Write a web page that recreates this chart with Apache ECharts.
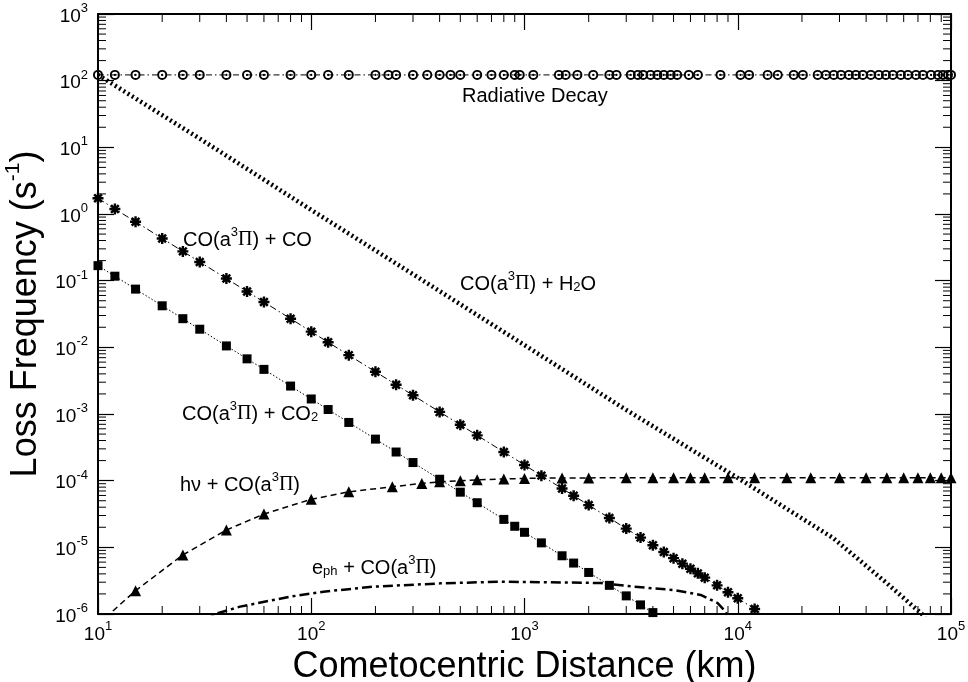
<!DOCTYPE html>
<html>
<head>
<meta charset="utf-8">
<script src="https://cdn.jsdelivr.net/npm/echarts@6/dist/echarts.min.js"></script>
<style>
  html, body { margin: 0; padding: 0; background: #ffffff; }
  #chart { width: 968px; height: 682px; }
</style>
</head>
<body>
<div id="chart"></div>
<script>
// Distances in km, loss frequencies in s^-1.

const radiativeDist = [10, 12, 15, 20, 25, 30, 40, 50, 60, 80, 100, 120, 150, 200, 230, 250, 300, 350, 400, 450, 500, 600, 700,
  800, 900, 950, 1100, 1450, 1560, 1770, 2100, 2500, 2700, 3150, 3400, 3600, 3900, 4200, 4500, 4850, 5200, 5900, 6500, 8300,
  10300, 11300, 13800, 15400, 18300, 20200, 23700, 25900, 28200, 30500, 33200, 35800, 38600, 42100, 45900, 49500, 53400,
  58200, 62800, 68500, 73900, 80600, 86900, 91700, 96800, 100000];
const radiativeRate = [122, 122, 122, 122, 122, 122, 122, 122, 122, 122, 122, 122, 122, 122, 122, 122, 122, 122, 122, 122, 122, 122, 122,
  122, 122, 122, 122, 122, 122, 122, 122, 122, 122, 122, 122, 122, 122, 122, 122, 122, 122, 122, 122, 122,
  122, 122, 122, 122, 122, 122, 122, 122, 122, 122, 122, 122, 122, 122, 122, 122, 122,
  122, 122, 122, 122, 122, 122, 122, 122, 122];

const waterDist = [10, 30, 100, 300, 1000, 3000, 10000, 28000, 50000, 73000, 80000];
const waterRate = [122, 13.5, 1.15, 0.125, 0.0108, 0.00115, 0.00011, 1.38e-5, 2.9e-6, 1.0e-6, 7.0e-7];

const coDist = [10, 12, 15, 20, 25, 30, 40, 50, 60, 80, 100, 120, 150, 200, 250, 300, 400, 500, 600, 800, 1000, 1200, 1500,
  1700, 2000, 2500, 3000, 3500, 4000, 4500, 5000, 5500, 6000, 6500, 7000, 8000, 9000, 10000, 12000, 13500];
const coRate = [1.72, 1.19, 0.764, 0.43, 0.275, 0.191, 0.1075, 0.0688, 0.0478, 0.0269, 0.0172, 0.0119, 0.00764, 0.0043, 0.00275,
  0.00191, 0.001075, 6.88e-4, 4.78e-4, 2.69e-4, 1.72e-4, 1.19e-4, 7.64e-5, 5.95e-5, 4.3e-5, 2.75e-5, 1.91e-5, 1.4e-5,
  1.075e-5, 8.5e-6, 6.88e-6, 5.69e-6, 4.78e-6, 4.07e-6, 3.51e-6, 2.69e-6, 2.12e-6, 1.72e-6, 1.19e-6, 9.4e-7];

const co2Dist = [10, 12, 15, 20, 25, 30, 40, 50, 60, 80, 100, 120, 150, 200, 250, 300, 400, 500, 600, 800, 900, 1000, 1200,
  1500, 1700, 2000, 2500, 3000, 3500, 4000, 4500];
const co2Rate = [0.168, 0.1167, 0.0747, 0.042, 0.0269, 0.0187, 0.0105, 0.00672, 0.00467, 0.002625, 0.00168, 0.001167, 7.47e-4,
  4.2e-4, 2.69e-4, 1.87e-4, 1.05e-4, 6.72e-5, 4.67e-5, 2.625e-5, 2.07e-5, 1.68e-5, 1.167e-5, 7.47e-6, 5.81e-6, 4.2e-6,
  2.69e-6, 1.87e-6, 1.37e-6, 1.05e-6, 8.3e-7];

const photonDist = [10, 15, 25, 40, 60, 100, 150, 240, 330, 400, 500, 600, 800, 1000, 1500, 2000, 3000, 4000, 5000, 6000, 7000,
  9000, 12000, 17000, 22000, 30000, 40000, 50000, 60000, 70000, 80000, 90000, 100000];
const photonRate = [7.0e-7, 2.24e-6, 7.7e-6, 1.82e-5, 3.16e-5, 5.25e-5, 6.8e-5, 8.1e-5, 9.1e-5, 9.6e-5, 1.0e-4, 1.03e-4, 1.06e-4,
  1.08e-4, 1.1e-4, 1.1e-4, 1.11e-4, 1.11e-4, 1.11e-4, 1.11e-4, 1.11e-4, 1.11e-4, 1.11e-4, 1.11e-4, 1.11e-4, 1.11e-4,
  1.11e-4, 1.11e-4, 1.11e-4, 1.11e-4, 1.11e-4, 1.11e-4, 1.11e-4];

const electronDist = [30, 35.4, 46.4, 79.6, 114, 195, 403, 771, 2275, 3250, 5010, 6700, 8050, 8790, 9300];
const electronRate = [7.0e-7, 1.0e-6, 1.29e-6, 1.82e-6, 2.16e-6, 2.57e-6, 2.88e-6, 3.05e-6, 2.92e-6, 2.57e-6, 2.29e-6, 1.93e-6,
  1.46e-6, 1.08e-6, 7.0e-7];

const xMinorTicks = [20, 30, 40, 50, 60, 70, 80, 90, 200, 300, 400, 500, 600, 700, 800, 900, 2000, 3000, 4000, 5000, 6000, 7000,
  8000, 9000, 20000, 30000, 40000, 50000, 60000, 70000, 80000, 90000];
const yDecades = [1e-6, 1e-5, 1e-4, 1e-3, 1e-2, 1e-1, 1, 10, 100];
const yMinorSteps = [2, 3, 4, 5, 6, 7, 8, 9];

const FONT = '"Liberation Sans", Arial, Helvetica, sans-serif';
const GREEK = '"Liberation Serif", "DejaVu Serif", serif';

function pairs(xs, ys) { return xs.map((x, i) => [x, ys[i]]); }

function powerLabel(v) {
  const e = Math.round(Math.log10(v));
  return '{b|10}{s|' + e + '}';
}

const labelRich = {
  b: { fontSize: 19, fontFamily: FONT, color: '#000', lineHeight: 24, verticalAlign: 'bottom' },
  s: { fontSize: 13, fontFamily: FONT, color: '#000', lineHeight: 24, verticalAlign: 'top', padding: [0, 0, 9, 0] }
};

// rich styles shared by the in-plot annotations
const noteRich = {
  t: { fontSize: 20, fontFamily: FONT, color: '#000', lineHeight: 24, verticalAlign: 'bottom' },
  g: { fontSize: 20, fontFamily: GREEK, color: '#000', lineHeight: 24, verticalAlign: 'bottom' },
  s: { fontSize: 13, fontFamily: FONT, color: '#000', lineHeight: 24, verticalAlign: 'top', padding: [0, 0, 7, 0] },
  u: { fontSize: 13, fontFamily: FONT, color: '#000', lineHeight: 24, verticalAlign: 'bottom', padding: [6, 0, 0, 0] }
};

function note(x, y, text) {
  return { type: 'text', left: x, top: y, silent: true, style: { text: text, rich: noteRich, fill: '#000' } };
}

// circle-with-centre-dot marker
const ringDot = 'path://M0,-5A5,5 0 1,1 0,5A5,5 0 1,1 0,-5ZM0,-3.1A3.1,3.1 0 1,0 0,3.1A3.1,3.1 0 1,0 0,-3.1ZM0,-1.1A1.1,1.1 0 1,1 0,1.1A1.1,1.1 0 1,1 0,-1.1Z';
// eight-armed asterisk marker with heavy strokes
const star = 'path://M-1.1,-5L1.1,-5L1.1,5L-1.1,5ZM-5,-1.1L5,-1.1L5,1.1L-5,1.1Z' +
  'M-4.3,-2.7L-2.7,-4.3L4.3,2.7L2.7,4.3ZM2.7,-4.3L4.3,-2.7L-2.7,4.3L-4.3,2.7Z';

const yMinorTicks = [];
yDecades.forEach(d => yMinorSteps.forEach(m => yMinorTicks.push(d * m)));

function tickSeries(values, isX) {
  return {
    type: 'custom',
    silent: true,
    clip: false,
    z: 5,
    data: values.map(v => isX ? [v, 1] : [100, v]),
    renderItem: function (params, api) {
      const v = isX ? api.value(0) : api.value(1);
      const len = 8;
      let a, b;
      if (isX) {
        a = api.coord([v, 1e-6]);
        b = api.coord([v, 1e3]);
        return { type: 'group', children: [
          { type: 'line', shape: { x1: a[0], y1: a[1], x2: a[0], y2: a[1] - len }, style: { stroke: '#000', lineWidth: 1 } },
          { type: 'line', shape: { x1: b[0], y1: b[1], x2: b[0], y2: b[1] + len }, style: { stroke: '#000', lineWidth: 1 } }
        ] };
      }
      a = api.coord([10, v]);
      b = api.coord([1e5, v]);
      return { type: 'group', children: [
        { type: 'line', shape: { x1: a[0], y1: a[1], x2: a[0] + len, y2: a[1] }, style: { stroke: '#000', lineWidth: 1 } },
        { type: 'line', shape: { x1: b[0], y1: b[1], x2: b[0] - len, y2: b[1] }, style: { stroke: '#000', lineWidth: 1 } }
      ] };
    }
  };
}

const axisBase = {
  type: 'log',
  logBase: 10,
  splitLine: { show: false },
  axisLine: { show: true, onZero: false, lineStyle: { color: '#000', width: 2 } },
  axisTick: { show: true, inside: true, length: 16, lineStyle: { color: '#000', width: 1.2 } },
  minorTick: { show: false }
};

const chart = echarts.init(document.getElementById('chart'), null, { renderer: 'canvas' });

chart.setOption({
  backgroundColor: '#ffffff',
  animation: false,
  grid: { left: 98, right: 17, top: 14, bottom: 68, containLabel: false, outerBoundsMode: 'none' },
  xAxis: [
    Object.assign({}, axisBase, {
      min: 10, max: 100000, position: 'bottom',
      axisLabel: { formatter: powerLabel, rich: labelRich, margin: 6 },
      name: 'Cometocentric Distance (km)', nameLocation: 'middle', nameGap: 29,
      nameTextStyle: { fontSize: 36, fontFamily: FONT, color: '#000' }
    }),
    Object.assign({}, axisBase, { min: 10, max: 100000, position: 'top', axisLabel: { show: false } })
  ],
  yAxis: [
    Object.assign({}, axisBase, {
      min: 1e-6, max: 1e3, position: 'left',
      axisLabel: { formatter: powerLabel, rich: labelRich, margin: 10 },
      name: '{t|Loss Frequency (s}{s|-1}{t|)}', nameLocation: 'middle', nameGap: 48, nameRotate: 90,
      nameTextStyle: {
        rich: {
          t: { fontSize: 36, fontFamily: FONT, color: '#000', lineHeight: 42, verticalAlign: 'bottom' },
          s: { fontSize: 21, fontFamily: FONT, color: '#000', lineHeight: 42, verticalAlign: 'top', padding: [0, 0, 12, 0] }
        }
      }
    }),
    Object.assign({}, axisBase, { min: 1e-6, max: 1e3, position: 'right', axisLabel: { show: false } })
  ],
  graphic: [
    { type: 'text', left: 462, top: 86, silent: true, style: { text: 'Radiative Decay', font: '20px ' + FONT, fill: '#000' } },
    note(183, 226, '{t|CO(a}{s|3}{g|Π}{t|) + CO}'),
    note(460, 270, '{t|CO(a}{s|3}{g|Π}{t|) + H}{u|2}{t|O}'),
    note(182, 400, '{t|CO(a}{s|3}{g|Π}{t|) + CO}{u|2}'),
    note(180, 471, '{t|hν + CO(a}{s|3}{g|Π}{t|)}'),
    note(312, 554, '{t|e}{u|ph}{t| + CO(a}{s|3}{g|Π}{t|)}')
  ],
  series: [
    {
      name: 'Radiative Decay', type: 'line', data: pairs(radiativeDist, radiativeRate),
      symbol: ringDot, symbolSize: 10, showAllSymbol: true, clip: true,
      itemStyle: { color: '#000' },
      lineStyle: { color: '#000', width: 1, type: [6, 3, 1.5, 3] }, z: 3
    },
    {
      name: 'CO(a3Π) + H2O', type: 'line', data: pairs(waterDist, waterRate),
      symbol: 'none', clip: true,
      lineStyle: { color: '#000', width: 4.5, type: [2, 3], cap: 'butt' }, z: 2
    },
    {
      name: 'CO(a3Π) + CO', type: 'line', data: pairs(coDist, coRate),
      symbol: star, symbolSize: 11, showAllSymbol: true, clip: true,
      itemStyle: { color: '#000' },
      lineStyle: { color: '#000', width: 1, type: [7, 3, 1.5, 3] }, z: 3
    },
    {
      name: 'CO(a3Π) + CO2', type: 'line', data: pairs(co2Dist, co2Rate),
      symbol: 'rect', symbolSize: 9, showAllSymbol: true, clip: true,
      itemStyle: { color: '#000' },
      lineStyle: { color: '#000', width: 1, type: [1.5, 2] }, z: 3
    },
    {
      name: 'hν + CO(a3Π)', type: 'line', data: pairs(photonDist, photonRate),
      symbol: 'triangle', symbolSize: 11, showAllSymbol: true, clip: true,
      itemStyle: { color: '#000' },
      lineStyle: { color: '#000', width: 1.5, type: [6, 4] }, z: 3
    },
    {
      name: 'eph + CO(a3Π)', type: 'line', data: pairs(electronDist, electronRate),
      symbol: 'none', clip: true,
      lineStyle: { color: '#000', width: 2.5, type: [10, 4, 3, 4] }, z: 3
    },
    tickSeries(xMinorTicks, true),
    tickSeries(yMinorTicks, false)
  ]
});
</script>
</body>
</html>
